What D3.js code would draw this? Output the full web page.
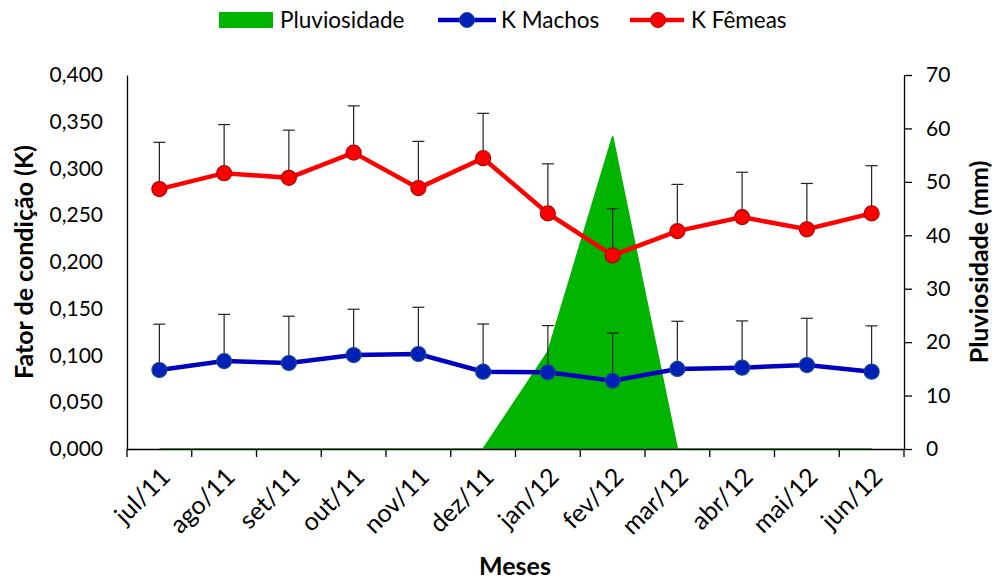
<!DOCTYPE html>
<html><head><meta charset="utf-8">
<script src="https://cdn.jsdelivr.net/npm/d3@7"></script>
<style>body{margin:0;background:#fff}svg{font-family:Lato,"Open Sans",sans-serif}</style>
</head><body><svg id="c" width="992" height="579"></svg>
<script>
const months = ["jul/11","ago/11","set/11","out/11","nov/11","dez/11","jan/12","fev/12","mar/12","abr/12","mai/12","jun/12"];
const rain = [0,0,0,0,0,0,18.2,58.5,0,0,0,0];
const kMachos = [0.0845,0.094,0.092,0.1005,0.1016,0.0827,0.082,0.073,0.0856,0.087,0.0898,0.0827];
const kMachosErr = [0.049,0.050,0.050,0.049,0.050,0.051,0.050,0.051,0.051,0.050,0.050,0.049];
const kFemeas = [0.278,0.295,0.290,0.317,0.279,0.311,0.252,0.207,0.233,0.248,0.235,0.252];
const kFemeasErr = [0.050,0.052,0.051,0.050,0.050,0.048,0.053,0.050,0.050,0.048,0.049,0.051];
const leftTicks = [0,0.05,0.1,0.15,0.2,0.25,0.3,0.35,0.4];
const rightTicks = [0,10,20,30,40,50,60,70];

const svg = d3.select("#c");
const L=127,R=904,T=75,B=449;
const FONT = "Lato,'Open Sans',sans-serif";
const x = d3.scaleBand().domain(months).range([L,R]);
const cx = m => x(m)+x.bandwidth()/2;
const yL = d3.scaleLinear().domain([0,0.4]).range([B,T]);
const yR = d3.scaleLinear().domain([0,70]).range([B,T]);
const fmt = v => d3.format(".3f")(v).replace(".",",");

// rain area
const area = d3.area().x((d,i)=>cx(months[i])).y0(yR(0)).y1(d=>yR(d));
svg.append("path").datum(rain).attr("d",area).attr("fill","#00b400").attr("stroke","#00b400").attr("stroke-width",1.5);

// axes
const gx = svg.append("g").attr("transform",`translate(0,${B})`)
  .call(d3.axisBottom(x).tickSize(0).tickFormat(""));
gx.select(".domain").attr("stroke","#000").attr("stroke-width",1.3);
const bounds = months.map(m=>x(m)).concat([R]);
svg.append("g").selectAll("line").data(bounds).join("line")
  .attr("x1",d=>d).attr("x2",d=>d).attr("y1",B).attr("y2",B+8).attr("stroke","#000").attr("stroke-width",1.3);
svg.append("g").selectAll("text").data(months).join("text")
  .attr("transform",d=>`translate(${cx(d)},${B+17}) rotate(-45)`)
  .attr("text-anchor","end").attr("dy","0.7em").attr("font-size",25).attr("fill","#000").text(d=>d);

const gl = svg.append("g").attr("transform",`translate(${L},0)`)
  .call(d3.axisLeft(yL).tickValues(leftTicks).tickSize(0).tickPadding(24).tickFormat(fmt));
gl.select(".domain").attr("stroke","#000").attr("stroke-width",1.3);
gl.selectAll("text").attr("font-size",21).attr("font-family",FONT).attr("fill","#000");

const gr = svg.append("g").attr("transform",`translate(${R},0)`)
  .call(d3.axisRight(yR).tickValues(rightTicks).tickSize(8).tickSizeOuter(0).tickPadding(14).tickFormat(d3.format("d")));
gr.select(".domain").attr("stroke","#000").attr("stroke-width",1.3);
gr.selectAll("line").attr("stroke","#000").attr("stroke-width",1.3);
gr.selectAll("text").attr("font-size",21).attr("font-family",FONT).attr("fill","#000");

// series
function series(vals, errs, lineColor, fill, stroke){
  const g = svg.append("g");
  g.selectAll("line.err").data(vals).join("line")
    .attr("x1",(d,i)=>cx(months[i])).attr("x2",(d,i)=>cx(months[i]))
    .attr("y1",d=>yL(d)).attr("y2",(d,i)=>yL(d+errs[i])).attr("stroke","#222").attr("stroke-width",1.2);
  g.selectAll("line.cap").data(vals).join("line")
    .attr("x1",(d,i)=>cx(months[i])-6).attr("x2",(d,i)=>cx(months[i])+6)
    .attr("y1",(d,i)=>yL(d+errs[i])).attr("y2",(d,i)=>yL(d+errs[i])).attr("stroke","#222").attr("stroke-width",1.2);
  g.append("path").datum(vals).attr("fill","none").attr("stroke",lineColor).attr("stroke-width",4.5)
    .attr("d",d3.line().x((d,i)=>cx(months[i])).y(d=>yL(d)));
  g.selectAll("circle").data(vals).join("circle")
    .attr("cx",(d,i)=>cx(months[i])).attr("cy",d=>yL(d)).attr("r",7.5)
    .attr("fill",fill).attr("stroke",stroke).attr("stroke-width",1.2);
}
series(kMachos,kMachosErr,"#0000c0","#0020b8","#1a4a8a");
series(kFemeas,kFemeasErr,"#ff0000","#ff0000","#b00000");

// titles
svg.append("text").attr("transform",`translate(24,262) rotate(-90)`).attr("text-anchor","middle")
  .attr("dy","0.35em").attr("font-size",25).attr("font-weight","bold").text("Fator de condição (K)");
svg.append("text").attr("transform",`translate(979,262) rotate(-90)`).attr("text-anchor","middle")
  .attr("dy","0.35em").attr("font-size",25).attr("font-weight","bold").text("Pluviosidade (mm)");
svg.append("text").attr("x",515).attr("y",575).attr("text-anchor","middle")
  .attr("font-size",25).attr("font-weight","bold").text("Meses");

// legend
const lg = svg.append("g");
lg.append("rect").attr("x",219).attr("y",12).attr("width",54).attr("height",16).attr("fill","#00b400");
lg.append("text").attr("x",280).attr("y",28).attr("font-size",22.5).text("Pluviosidade");
lg.append("line").attr("x1",438).attr("x2",496).attr("y1",20).attr("y2",20).attr("stroke","#0000c0").attr("stroke-width",4.5);
lg.append("circle").attr("cx",467).attr("cy",20).attr("r",7.5).attr("fill","#0020b8").attr("stroke","#1a4a8a");
lg.append("text").attr("x",501).attr("y",28).attr("font-size",22.5).text("K Machos");
lg.append("line").attr("x1",630).attr("x2",684).attr("y1",20).attr("y2",20).attr("stroke","#ff0000").attr("stroke-width",4.5);
lg.append("circle").attr("cx",658).attr("cy",20).attr("r",7.5).attr("fill","#ff0000").attr("stroke","#b00000");
lg.append("text").attr("x",691).attr("y",28).attr("font-size",22.5).text("K Fêmeas");
</script></body></html>
